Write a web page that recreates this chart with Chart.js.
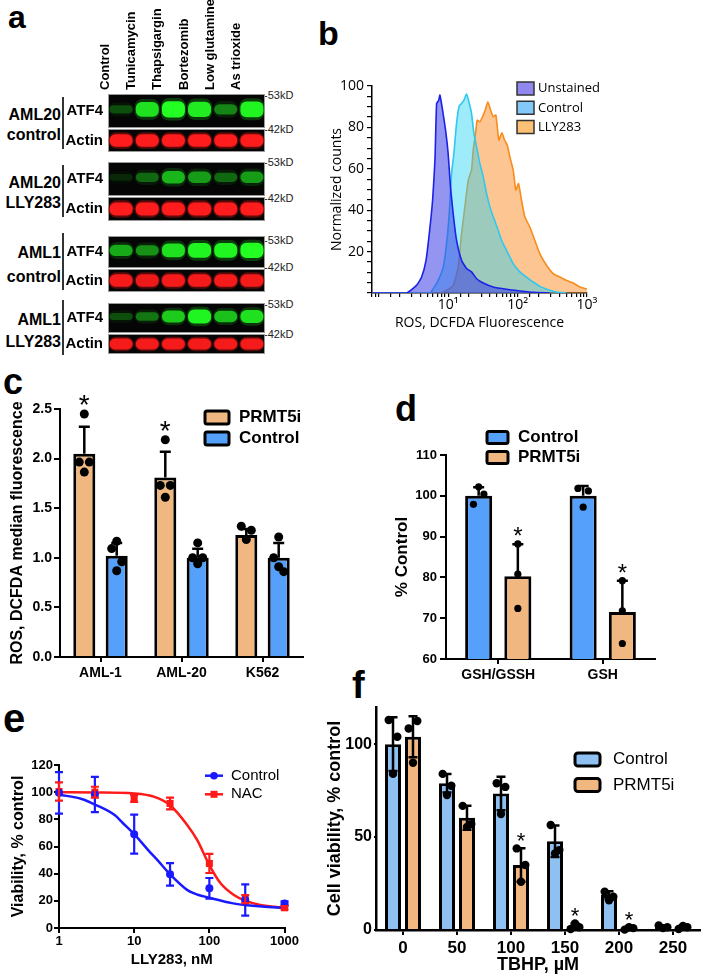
<!DOCTYPE html>
<html><head><meta charset="utf-8">
<script src="https://cdn.jsdelivr.net/npm/chart.js@4.4.1/dist/chart.umd.min.js"></script>
<style>
html,body{margin:0;padding:0;background:#fff;}
body{width:705px;height:978px;position:relative;overflow:hidden;font-family:'Liberation Sans',Arial,sans-serif;color:#000;}
.t{position:absolute;white-space:nowrap;line-height:1;}
.letter{font-weight:bold;}
.sample{font-weight:bold;font-size:16px;text-align:right;width:61px;left:0;}
.kd{font-size:11px;color:#222;}
.div{position:absolute;background:#333;width:2px;left:62px;}
canvas{position:absolute;}
</style></head><body>

<div class="t letter" style="left:8px;top:1px;font-size:32px;">a</div>
<div class="t letter" style="left:318px;top:16px;font-size:34px;">b</div>
<div class="t letter" style="left:3px;top:364px;font-size:36px;">c</div>
<div class="t letter" style="left:395px;top:391px;font-size:36px;">d</div>
<div class="t letter" style="left:3px;top:698px;font-size:40px;">e</div>
<div class="t letter" style="left:352px;top:666px;font-size:38px;">f</div>

<div class="t sample" style="top:105px;line-height:20px;">AML20<br>control</div>
<div class="t sample" style="top:173px;line-height:20px;">AML20<br>LLY283</div>
<div class="t sample" style="top:241px;line-height:24px;">AML1<br>control</div>
<div class="t sample" style="top:309px;line-height:22px;">AML1<br>LLY283</div>
<div class="div" style="top:97px;height:52px;"></div>
<div class="div" style="top:165px;height:52px;"></div>
<div class="div" style="top:233px;height:57px;"></div>
<div class="div" style="top:300px;height:55px;"></div>
<div class="t kd" style="left:264px;top:90px;">-53kD</div>
<div class="t kd" style="left:264px;top:124px;">-42kD</div>
<div class="t kd" style="left:264px;top:157px;">-53kD</div>
<div class="t kd" style="left:264px;top:193px;">-42kD</div>
<div class="t kd" style="left:264px;top:235px;">-53kD</div>
<div class="t kd" style="left:264px;top:262px;">-42kD</div>
<div class="t kd" style="left:264px;top:299px;">-53kD</div>
<div class="t kd" style="left:264px;top:329px;">-42kD</div>

<script>
// ================= DATA =================
// Panel a: western blot band intensities (0..1)
const aLanes = ['Control', 'Tunicamycin', 'Thapsigargin', 'Bortezomib', 'Low glutamine', 'As trioxide'];
const aRows = ['ATF4', 'Actin'];
const aATF4 = [
  [0.25, 0.85, 1.0, 0.9, 0.45, 0.95],
  [0.12, 0.35, 0.65, 0.55, 0.35, 0.55],
  [0.6, 0.5, 0.85, 0.95, 0.95, 1.0],
  [0.25, 0.4, 0.75, 0.95, 0.7, 0.85]
];
const aActin = [
  [1, 1, 1, 1, 1, 1],
  [1, 1, 1, 1, 1, 1],
  [0.95, 0.9, 0.95, 0.95, 0.95, 0.95],
  [0.95, 0.95, 0.95, 0.95, 0.95, 0.95]
];

// Panel b: flow histograms (fluorescence, normalized counts)
const bUnstainedX = [0.8, 2.5, 3.5, 4.15, 4.8, 5.35, 5.97, 6.45, 6.82, 7.3, 7.61, 8.31, 9.18, 10.0, 10.8, 11.8, 13.2, 15.6, 18.4, 21.7, 25.7, 32, 44.6, 69, 108, 168, 290];
const bUnstainedY = [0, 0, 3.7, 7.7, 15.8, 28.7, 44.8, 64, 91.6, 93, 95.6, 88.4, 78.7, 67.4, 51.3, 38.4, 25.5, 15.8, 11.8, 10.2, 6.9, 4.8, 2.9, 1.8, 1, 0.3, 0];
const bControlX = [0.8, 5.47, 6.1, 7.2, 8.5, 9.5, 10.37, 11.2, 12.1, 13.2, 14.4, 15.6, 16.9, 18.4, 19.9, 21.7, 23.5, 25.7, 28.6, 32, 35.7, 39.9, 44.6, 52.6, 58.7, 69.3, 86.5, 107.8, 134.5, 167.6, 209, 276, 363, 506];
const bControlY = [0, 0, 2.1, 6.1, 12.6, 23.9, 38.4, 57.7, 67.4, 81.9, 90.3, 91.6, 93.2, 96.1, 92.4, 86.8, 77.1, 70.6, 62.6, 56.1, 48.1, 41.6, 36.8, 30.3, 25.5, 20.6, 14.2, 10.2, 7.7, 5.3, 3.2, 1.6, 0.5, 0];
const bLLYX = [0.8, 7.61, 9.5, 11.84, 13.98, 15.6, 17.4, 19.5, 21.7, 22.96, 24.8, 26.2, 28.6, 31.3, 34.2, 37.3, 40.8, 44.6, 48.7, 53.7, 59.4, 64.9, 70.9, 77.4, 86.5, 94.4, 103, 114, 127, 150, 177, 209, 261, 325, 406, 506, 631, 787, 1000];
const bLLYY = [0, 0, 1.3, 3.7, 12.6, 28.7, 41.6, 54.5, 59.4, 69, 77.1, 83.5, 82.7, 85.2, 88.4, 92.4, 88.4, 85.2, 86, 73.9, 77.4, 73.9, 71.5, 65.8, 59.4, 49.7, 52.9, 44.8, 36.8, 31.9, 25.5, 19, 13.4, 9.4, 7.7, 6.1, 4.8, 2.9, 1.9];
const bDecadeLabels = ['10¹', '10²', '10³'];

// Panel c: ROS, DCFDA median fluorescence
const cCategories = ['AML-1', 'AML-20', 'K562'];
const cPRMT5iMean = [2.05, 1.81, 1.23];
const cPRMT5iErr = [0.27, 0.26, 0.06];
const cPRMT5iPoints = [[2.45, 1.965, 1.965, 1.864], [2.19, 1.73, 1.73, 1.61], [1.318, 1.278, 1.184]];
const cPRMT5iSig = [true, true, false];
const cControlMean = [1.02, 1.0, 1.0];
const cControlErr = [0.13, 0.09, 0.15];
const cControlPoints = [[1.167, 1.093, 0.96, 0.87], [1.15, 1.0, 1.0, 0.94], [1.21, 1.0, 0.86, 0.91]];

// Panel d: % Control
const dCategories = ['GSH/GSSH', 'GSH'];
const dControlMean = [100, 100];
const dControlErr = [2.1, 2.4];
const dControlPoints = [[97.9, 100.4, 102.2], [101.8, 101.2, 97.2]];
const dPRMT5iMean = [80.3, 71.5];
const dPRMT5iErr = [7.8, 7.7];
const dPRMT5iPoints = [[88.2, 80.8, 72.4], [79.2, 71.8, 63.8]];
const dPRMT5iSig = [true, true];

// Panel e: viability vs LLY283 dose
const eDoses = [1, 3, 10, 30, 100, 300, 1000];
const eControlMean = [99.5, 98.3, 69.1, 39.5, 29.2, 20.6, 18.1];
const eControlSD = [15.3, 13, 14.4, 8.3, 7.6, 11.5, 1.5];
const eNACMean = [100.5, 100, 95.3, 91.7, 47.5, 21.3, 14.9];
const eNACSD = [6.7, 4, 2.5, 4.3, 7, 3, 1.2];
const eFitControlDose = [1, 2, 3, 5.5, 7, 10, 16.8, 20, 30, 51, 70, 100, 200, 300, 500, 1000];
const eFitControl = [98.2, 95, 90.9, 83.1, 77.5, 69.1, 54.9, 50.5, 39.5, 27.9, 24.5, 22.3, 18.3, 16.9, 15.8, 14.9];
const eFitNACDose = [1, 3, 10, 18.6, 30, 51, 69, 100, 141, 212, 300, 477, 1000];
const eFitNAC = [100, 99.8, 99, 96.5, 90.4, 75.7, 64.7, 46.3, 32.9, 24.3, 20.1, 16.9, 14.9];
const eXTicks = [1, 10, 100, 1000];

// Panel f: cell viability vs TBHP
const fCategories = ['0', '50', '100', '150', '200', '250'];
const fControlMean = [100, 79, 73.5, 47.8, 18.8, 1.8];
const fControlErr = [14.5, 5, 9, 8.5, 2, 0.8];
const fControlPoints = [[113, 104, 84], [84, 77.6, 72.6], [79, 77, 62.4], [56.5, 43, 41.2], [20.6, 17.9, 16], [2.5, 1.5, 1.0]];
const fPRMT5iMean = [104, 60.4, 35, 2, 0.8, 1.5];
const fPRMT5iErr = [11, 6.5, 9, 1.5, 0.8, 0.8];
const fPRMT5iPoints = [[108.4, 112.5, 90], [66.8, 57, 55.5], [43.9, 35, 26], [0.5, 1.5, 3.5], [0.2, 1.0, 1.5], [0.5, 1.5, 2.2]];
const fPRMT5iSig = [false, false, true, true, true, false];
const fYTicks = [0, 50, 100];

// ================= STYLE / SETUP =================
const ORANGE = '#F0B880';
const BLUE = '#55A0FA';
const LBLUE = '#8EC0F2';
const FONT = "'Liberation Sans', Arial, sans-serif";
Chart.defaults.font.family = FONT;
Chart.defaults.color = '#000';
Chart.defaults.animation = false;
Chart.defaults.events = [];
Chart.defaults.plugins.legend.display = false;
Chart.defaults.plugins.tooltip.enabled = false;

const valOf = d => (typeof d === 'number' ? d : d.y);

const errorBars = {
  id: 'errorBars',
  afterDatasetsDraw(chart) {
    const ctx = chart.ctx;
    chart.data.datasets.forEach((ds, di) => {
      if (!ds.errUp) return;
      const meta = chart.getDatasetMeta(di);
      const ys = chart.scales[meta.yAxisID];
      ctx.save();
      ctx.strokeStyle = ds.errColor || '#000';
      ctx.lineWidth = ds.errWidth || 2;
      meta.data.forEach((el, j) => {
        const m = valOf(ds.data[j]);
        const up = ds.errUp[j], dn = ds.errDown ? ds.errDown[j] : 0;
        const yT = ys.getPixelForValue(m + up);
        const yB = ys.getPixelForValue(Math.max(m - dn, ys.min));
        const x = el.x, cw = ds.capW || 8;
        ctx.beginPath();
        ctx.moveTo(x, yB); ctx.lineTo(x, yT);
        ctx.moveTo(x - cw / 2, yT); ctx.lineTo(x + cw / 2, yT);
        if (dn) { ctx.moveTo(x - cw / 2, yB); ctx.lineTo(x + cw / 2, yB); }
        ctx.stroke();
      });
      ctx.restore();
    });
  }
};

const stars = {
  id: 'stars',
  afterDatasetsDraw(chart, args, o) {
    if (!o || !o.font) return;
    const ctx = chart.ctx;
    chart.data.datasets.forEach((ds, di) => {
      if (!ds.sig) return;
      const meta = chart.getDatasetMeta(di);
      const ys = chart.scales.y;
      ctx.save();
      ctx.font = o.font; ctx.fillStyle = '#000';
      ctx.textAlign = 'center'; ctx.textBaseline = 'alphabetic';
      meta.data.forEach((el, j) => {
        if (!ds.sig[j]) return;
        let top = valOf(ds.data[j]) + (ds.errUp ? ds.errUp[j] : 0);
        if (ds.pts) top = Math.max(top, ...ds.pts[j]);
        ctx.fillText('*', el.x, ys.getPixelForValue(top) + (o.shift || 0));
      });
      ctx.restore();
    });
  }
};

const boxLegend = {
  id: 'boxLegend',
  afterDraw(chart, args, o) {
    if (!o || !o.items) return;
    const ctx = chart.ctx;
    ctx.save();
    ctx.font = o.font; ctx.textBaseline = 'middle'; ctx.textAlign = 'left';
    o.items.forEach((di, i) => {
      const ds = chart.data.datasets[di];
      const cy = o.y + i * o.rowH;
      if (o.kind === 'line') {
        ctx.strokeStyle = ds.borderColor; ctx.lineWidth = o.lineW || 2.5;
        ctx.beginPath(); ctx.moveTo(o.x, cy); ctx.lineTo(o.x + o.boxW, cy); ctx.stroke();
        ctx.fillStyle = ds.backgroundColor;
        const cx = o.x + o.boxW / 2;
        if (ds.pointStyle === 'rect') ctx.fillRect(cx - 3.5, cy - 3.5, 7, 7);
        else { ctx.beginPath(); ctx.arc(cx, cy, 3.8, 0, Math.PI * 2); ctx.fill(); }
      } else {
        ctx.fillStyle = ds.legendFill || ds.backgroundColor;
        ctx.beginPath();
        if (ctx.roundRect) ctx.roundRect(o.x, cy - o.boxH / 2, o.boxW, o.boxH, o.radius || 0);
        else ctx.rect(o.x, cy - o.boxH / 2, o.boxW, o.boxH);
        ctx.fill();
        ctx.lineWidth = o.border; ctx.strokeStyle = o.borderColor || '#000';
        ctx.stroke();
      }
      ctx.fillStyle = '#000';
      ctx.fillText(ds.label, o.textX, cy + (o.textDy || 0));
    });
    ctx.restore();
  }
};

const blotBg = {
  id: 'blotBg',
  beforeDatasetsDraw(chart, args, o) {
    if (!o || !o.on) return;
    const {ctx, chartArea: a} = chart;
    ctx.save();
    ctx.fillStyle = '#050505';
    ctx.fillRect(a.left, a.top, a.right - a.left, a.bottom - a.top);
    ctx.strokeStyle = '#9a9a9a'; ctx.lineWidth = 1;
    ctx.strokeRect(a.left + 0.5, a.top + 0.5, a.right - a.left - 1, a.bottom - a.top - 1);
    ctx.restore();
  }
};
Chart.register(errorBars, stars, boxLegend, blotBg);

function mkCanvas(left, top, w, h) {
  const c = document.createElement('canvas');
  c.width = w; c.height = h;
  c.style.left = left + 'px'; c.style.top = top + 'px';
  c.style.width = w + 'px'; c.style.height = h + 'px';
  document.body.appendChild(c);
  return c;
}
const baseOpts = {responsive: false, maintainAspectRatio: false, devicePixelRatio: 1, animation: false, events: []};
const noPadV = s => { s.paddingTop = 0; s.paddingBottom = 0; };
const noPadH = s => { s.paddingLeft = 0; s.paddingRight = 0; };

// series k (0 = left, 1 = right) in a group of two bars spanning cp of a category
const groupPos = (i, k, cp) => i + (k - 0.5) * cp / 2;
const barData = (means, k, cp) => means.map((m, i) => ({x: groupPos(i, k, cp), y: m}));
function pointCloud(pts, k, cp, spread) {
  const out = [];
  pts.forEach((arr, i) => {
    const pat = arr.length === 4 ? [0, -1, 1, 0] : [-1, 1, 0];
    arr.forEach((v, j) => out.push({x: groupPos(i, k, cp) + pat[j] * spread, y: v}));
  });
  return out;
}
function categoryAxis(cats, font, height, tickLen, extra) {
  return Object.assign({
    type: 'linear', min: -0.5, max: cats.length - 0.5, offset: false,
    afterBuildTicks: s => { s.ticks = cats.map((c, i) => ({value: i})); },
    grid: {display: true, drawOnChartArea: false, offset: false, tickLength: tickLen, color: '#000', lineWidth: 2},
    border: {color: '#000', width: 2},
    ticks: {autoSkip: false, maxRotation: 0, padding: 3, font: font, color: '#000', callback: v => cats[Math.round(v)]},
    afterFit: s => { s.height = height; }
  }, extra || {});
}

// ================= PANEL a =================
const STRIPS = [
  {top: 0, h: 128, axis: 94}, {top: 129, h: 23},
  {top: 162, h: 34}, {top: 197, h: 24},
  {top: 236, h: 32}, {top: 269, h: 23},
  {top: 303, h: 30}, {top: 334, h: 20}
];
STRIPS.forEach((g, si) => {
  const blot = Math.floor(si / 2);
  const isATF4 = si % 2 === 0;
  const row = isATF4 ? aRows[0] : aRows[1];
  const vals = isATF4 ? aATF4[blot] : aActin[blot];
  const mid = isATF4 ? 0.55 : 0.5;
  const coreHW = v => isATF4 ? 0.08 + 0.16 * v : 0.27;
  const core = vals.map(v => [mid - coreHW(v), mid + coreHW(v)]);
  const halo = vals.map(v => [mid - coreHW(v) - 0.09, mid + coreHW(v) + 0.09]);
  const coreCol = vals.map(v => isATF4 ? `rgba(35,255,35,${v})` : `rgba(255,28,28,${v})`);
  const haloCol = vals.map(v => isATF4 ? `rgba(30,200,30,${v * 0.3})` : `rgba(200,20,20,${v * 0.45})`);
  const cv = mkCanvas(60, g.top, 205, g.h);
  new Chart(cv, {
    type: 'bar',
    data: {labels: aLanes, datasets: [
      {data: core, backgroundColor: coreCol, grouped: false, barPercentage: 0.88, categoryPercentage: 1, borderRadius: 6, borderSkipped: false},
      {data: halo, backgroundColor: haloCol, grouped: false, barPercentage: 0.97, categoryPercentage: 1, borderRadius: 8, borderSkipped: false}
    ]},
    options: Object.assign({}, baseOpts, {
      layout: {padding: 0},
      plugins: {legend: {display: false}, tooltip: {enabled: false}, blotBg: {on: true}},
      scales: {
        x: {display: !!g.axis, position: 'top', grid: {display: false, drawTicks: false}, border: {display: false},
            ticks: {minRotation: 90, maxRotation: 90, autoSkip: false, padding: 4, font: {size: 13, weight: 'bold'}, color: '#000'},
            afterFit: s => { s.height = g.axis || 0; noPadH(s); noPadV(s); }},
        y: {min: 0, max: 1, grid: {display: false, drawTicks: false}, border: {display: false},
            afterBuildTicks: s => { s.ticks = [{value: 0.5}]; },
            ticks: {callback: () => row, padding: 5, font: {size: 15, weight: 'bold'}, color: '#000'},
            afterFit: s => { s.width = 48; noPadV(s); noPadH(s); }}
      }
    })
  });
});

// ================= PANEL b =================
(function () {
  const cv = mkCanvas(300, 60, 300, 275);
  const toXY = (xs, ys) => xs.map((x, i) => ({x, y: ys[i]}));
  const OS = "'Open Sans', 'Noto Sans', sans-serif";
  new Chart(cv, {
    type: 'line',
    data: {datasets: [
      {label: 'Unstained', data: toXY(bUnstainedX, bUnstainedY), borderColor: '#1c22e8', backgroundColor: 'rgba(60,60,230,0.55)', legendFill: '#9088ee', fill: 'origin', pointRadius: 0, borderWidth: 1.6, tension: 0.15, order: 0},
      {label: 'Control', data: toXY(bControlX, bControlY), borderColor: '#2ec8f0', backgroundColor: 'rgba(40,210,245,0.45)', legendFill: '#82c8f8', fill: 'origin', pointRadius: 0, borderWidth: 1.6, tension: 0.15, order: 1},
      {label: 'LLY283', data: toXY(bLLYX, bLLYY), borderColor: '#f88c1c', backgroundColor: 'rgba(249,150,55,0.55)', legendFill: '#fcc174', fill: 'origin', pointRadius: 0, borderWidth: 1.6, tension: 0.15, order: 2}
    ]},
    options: Object.assign({}, baseOpts, {
      layout: {padding: {top: 26, right: 13, left: 0, bottom: 0}},
      plugins: {legend: {display: false}, tooltip: {enabled: false},
        boxLegend: {items: [0, 1, 2], x: 217, y: 28.5, rowH: 19.3, boxW: 17, boxH: 13, border: 1.5, borderColor: '#333', textX: 238, font: "13px " + OS}},
      scales: {
        x: {type: 'logarithmic', min: 0.8, max: 1000,
            grid: {display: true, drawOnChartArea: false, tickLength: 4, color: '#000', lineWidth: 1.2},
            border: {color: '#000', width: 1.5},
            ticks: {autoSkip: false, maxRotation: 0, padding: 0, font: {family: OS, size: 14}, color: '#000',
              callback: v => { const l = Math.log10(v); const r = Math.round(l); return (Math.abs(l - r) < 1e-6 && r >= 1 && r <= 3) ? bDecadeLabels[r - 1] : ''; }},
            title: {display: true, text: 'ROS, DCFDA Fluorescence', font: {family: OS, size: 14}, color: '#000', padding: {top: 0, bottom: 4}},
            afterFit: s => { s.height = 42; }},
        y: {min: 0, max: 100,
            grid: {display: true, drawOnChartArea: false, tickLength: 5, color: '#000', lineWidth: 1.2},
            border: {color: '#000', width: 1.5},
            ticks: {stepSize: 5, autoSkip: false, padding: 3, font: {family: OS, size: 14}, color: '#000',
              callback: v => (v > 0 && v % 20 === 0) ? String(v) : ''},
            title: {display: true, text: 'Normalized counts', font: {family: OS, size: 14}, color: '#000', padding: {top: 28.5, bottom: 0}},
            afterFit: s => { s.width = 72; }}
      }
    })
  });
})();

// ================= PANEL c =================
(function () {
  const CP = 0.8, BP = 0.68;
  const cv = mkCanvas(0, 378, 310, 312);
  const barStyle = {type: 'bar', borderColor: '#000', borderWidth: 3, borderSkipped: 'start', grouped: false, categoryPercentage: 1, barPercentage: BP, capW: 11, errWidth: 2.5, order: 2};
  new Chart(cv, {
    type: 'bar',
    data: {datasets: [
      Object.assign({label: 'PRMT5i', data: barData(cPRMT5iMean, 0, CP), backgroundColor: ORANGE, errUp: cPRMT5iErr, pts: cPRMT5iPoints, sig: cPRMT5iSig}, barStyle),
      Object.assign({label: 'Control', data: barData(cControlMean, 1, CP), backgroundColor: BLUE, errUp: cControlErr, pts: cControlPoints}, barStyle),
      {type: 'scatter', data: pointCloud(cPRMT5iPoints, 0, CP, 0.062), pointRadius: 4.5, backgroundColor: '#000', borderWidth: 0, clip: false, order: 0},
      {type: 'scatter', data: pointCloud(cControlPoints, 1, CP, 0.062), pointRadius: 4.5, backgroundColor: '#000', borderWidth: 0, clip: false, order: 0}
    ]},
    options: Object.assign({}, baseOpts, {
      layout: {padding: {top: 31, right: 7, left: 0, bottom: 0}},
      plugins: {legend: {display: false}, tooltip: {enabled: false},
        stars: {font: '28px ' + FONT, shift: 0},
        boxLegend: {items: [0, 1], x: 205, y: 39.5, rowH: 21, boxW: 24, boxH: 13, border: 3, radius: 2, textX: 239, font: 'bold 17px ' + FONT}},
      scales: {
        x: categoryAxis(cCategories, {size: 14, weight: 'bold'}, 33, 5),
        y: {min: 0, max: 2.5,
            grid: {display: true, drawOnChartArea: false, tickLength: 6, color: '#000', lineWidth: 2},
            border: {color: '#000', width: 2},
            ticks: {stepSize: 0.5, padding: 2, font: {size: 14, weight: 'bold'}, color: '#000', callback: v => v.toFixed(1)},
            title: {display: true, text: 'ROS, DCFDA median fluorescence', font: {size: 16, weight: 'bold'}, color: '#000', padding: {top: 8, bottom: 0}},
            afterFit: s => { s.width = 60; }}
      }
    })
  });
})();

// ================= PANEL d =================
(function () {
  const CP = 0.75, BP = 0.69;
  const cv = mkCanvas(380, 420, 290, 265);
  const barStyle = {type: 'bar', borderColor: '#000', borderWidth: 3, borderSkipped: 'start', grouped: false, categoryPercentage: 1, barPercentage: BP, capW: 11, errWidth: 2.5, order: 2};
  new Chart(cv, {
    type: 'bar',
    data: {datasets: [
      Object.assign({label: 'Control', data: barData(dControlMean, 0, CP), backgroundColor: BLUE, errUp: dControlErr, pts: dControlPoints}, barStyle),
      Object.assign({label: 'PRMT5i', data: barData(dPRMT5iMean, 1, CP), backgroundColor: ORANGE, errUp: dPRMT5iErr, pts: dPRMT5iPoints, sig: dPRMT5iSig}, barStyle),
      {type: 'scatter', data: pointCloud(dControlPoints, 0, CP, 0.05), pointRadius: 3.6, backgroundColor: '#000', borderWidth: 0, clip: false, order: 0},
      {type: 'scatter', data: pointCloud(dPRMT5iPoints, 1, CP, 0.0), pointRadius: 3.6, backgroundColor: '#000', borderWidth: 0, clip: false, order: 0}
    ]},
    options: Object.assign({}, baseOpts, {
      layout: {padding: {top: 35, right: 15, left: 0, bottom: 0}},
      plugins: {legend: {display: false}, tooltip: {enabled: false},
        stars: {font: '24px ' + FONT, shift: 0},
        boxLegend: {items: [0, 1], x: 107, y: 17.5, rowH: 20, boxW: 21, boxH: 12, border: 3, radius: 2, textX: 138, font: 'bold 17px ' + FONT}},
      scales: {
        x: categoryAxis(dCategories, {size: 14, weight: 'bold'}, 26, 5),
        y: {min: 60, max: 110,
            grid: {display: true, drawOnChartArea: false, tickLength: 6, color: '#000', lineWidth: 2},
            border: {color: '#000', width: 2},
            ticks: {stepSize: 10, padding: 3, font: {size: 13, weight: 'bold'}, color: '#000'},
            title: {display: true, text: '% Control', font: {size: 17, weight: 'bold'}, color: '#000', padding: {top: 12, bottom: 0}},
            afterFit: s => { s.width = 66; }}
      }
    })
  });
})();

// ================= PANEL e =================
(function () {
  const cv = mkCanvas(0, 740, 300, 238);
  const toXY = (xs, ys) => xs.map((x, i) => ({x, y: ys[i]}));
  new Chart(cv, {
    type: 'line',
    data: {datasets: [
      {label: 'Control', data: toXY(eDoses, eControlMean), showLine: false, pointStyle: 'circle', pointRadius: 4, borderWidth: 0, backgroundColor: '#1a1aff', borderColor: '#1a1aff', errUp: eControlSD, errDown: eControlSD, errColor: '#1a1aff', errWidth: 2.2, capW: 8, clip: false, order: 0},
      {label: 'NAC', data: toXY(eDoses, eNACMean), showLine: false, pointStyle: 'rect', pointRadius: 5, borderWidth: 0, backgroundColor: '#ff1a1a', borderColor: '#ff1a1a', errUp: eNACSD, errDown: eNACSD, errColor: '#ff1a1a', errWidth: 2.2, capW: 8, clip: false, order: 1},
      {label: 'Control fit', data: toXY(eFitControlDose, eFitControl), borderColor: '#1a1aff', borderWidth: 2.5, pointRadius: 0, cubicInterpolationMode: 'monotone', fill: false, order: 2},
      {label: 'NAC fit', data: toXY(eFitNACDose, eFitNAC), borderColor: '#ff1a1a', borderWidth: 2.5, pointRadius: 0, cubicInterpolationMode: 'monotone', fill: false, order: 3}
    ]},
    options: Object.assign({}, baseOpts, {
      layout: {padding: {top: 25, right: 14, left: 0, bottom: 0}},
      plugins: {legend: {display: false}, tooltip: {enabled: false},
        boxLegend: {kind: 'line', items: [0, 1], x: 205, y: 35.7, rowH: 18.6, boxW: 18, lineW: 2.5, textX: 231, font: '15px ' + FONT}},
      scales: {
        x: {type: 'logarithmic', min: 1, max: 1000,
            afterBuildTicks: s => { s.ticks = eXTicks.map(v => ({value: v})); },
            grid: {display: true, drawOnChartArea: false, tickLength: 5, color: '#000', lineWidth: 2},
            border: {color: '#000', width: 2},
            ticks: {autoSkip: false, maxRotation: 0, padding: 1, font: {size: 13, weight: 'bold'}, color: '#000', callback: v => String(v)},
            title: {display: true, text: 'LLY283, nM', font: {size: 15, weight: 'bold'}, color: '#000', padding: {top: 0, bottom: 9}},
            afterFit: s => { s.height = 50; }},
        y: {min: 0, max: 120,
            grid: {display: true, drawOnChartArea: false, tickLength: 5, color: '#000', lineWidth: 2},
            border: {color: '#000', width: 2},
            ticks: {stepSize: 20, padding: 1, font: {size: 13, weight: 'bold'}, color: '#000'},
            title: {display: true, text: 'Viability, % control', font: {size: 16, weight: 'bold'}, color: '#000', padding: {top: 9, bottom: 0}},
            afterFit: s => { s.width = 59; }}
      }
    })
  });
})();

// ================= PANEL f =================
(function () {
  const CP = 0.74, BP = 0.8;
  const cv = mkCanvas(320, 680, 385, 298);
  const barStyle = {type: 'bar', borderColor: '#000', borderWidth: 3, borderSkipped: 'start', grouped: false, categoryPercentage: 1, barPercentage: BP, capW: 9, errWidth: 2.5, order: 2};
  new Chart(cv, {
    type: 'bar',
    data: {datasets: [
      Object.assign({label: 'Control', data: barData(fControlMean, 0, CP), backgroundColor: LBLUE, errUp: fControlErr, errDown: fControlErr, pts: fControlPoints}, barStyle),
      Object.assign({label: 'PRMT5i', data: barData(fPRMT5iMean, 1, CP), backgroundColor: ORANGE, errUp: fPRMT5iErr, errDown: fPRMT5iErr, pts: fPRMT5iPoints, sig: fPRMT5iSig}, barStyle),
      {type: 'scatter', data: pointCloud(fControlPoints, 0, CP, 0.08), pointRadius: 4.2, backgroundColor: '#000', borderWidth: 0, clip: false, order: 0},
      {type: 'scatter', data: pointCloud(fPRMT5iPoints, 1, CP, 0.08), pointRadius: 4.2, backgroundColor: '#000', borderWidth: 0, clip: false, order: 0}
    ]},
    options: Object.assign({}, baseOpts, {
      layout: {padding: {top: 27, right: 5, left: 0, bottom: 0}},
      plugins: {legend: {display: false}, tooltip: {enabled: false},
        stars: {font: '22px ' + FONT, shift: 0},
        boxLegend: {items: [0, 1], x: 255, y: 79.5, rowH: 25.5, boxW: 25, boxH: 13, border: 3, radius: 3, textX: 293, font: '17px ' + FONT}},
      scales: {
        x: categoryAxis(fCategories, {size: 17, weight: 'bold'}, 48, 5, {
            border: {color: '#000', width: 2.5},
            title: {display: true, text: 'TBHP, µM', font: {size: 18, weight: 'bold'}, color: '#000', padding: {top: 0, bottom: 2}}}),
        y: {min: 0, max: 120,
            afterBuildTicks: s => { s.ticks = fYTicks.map(v => ({value: v})); },
            grid: {display: true, drawOnChartArea: false, tickLength: 2, color: '#000', lineWidth: 2},
            border: {color: '#000', width: 2.5},
            ticks: {padding: 2, font: {size: 16, weight: 'bold'}, color: '#000'},
            title: {display: true, text: 'Cell viability, % control', font: {size: 18, weight: 'bold'}, color: '#000', padding: {top: 4, bottom: 0}},
            afterFit: s => { s.width = 56; }}
      }
    })
  });
})();
</script>
</body></html>
